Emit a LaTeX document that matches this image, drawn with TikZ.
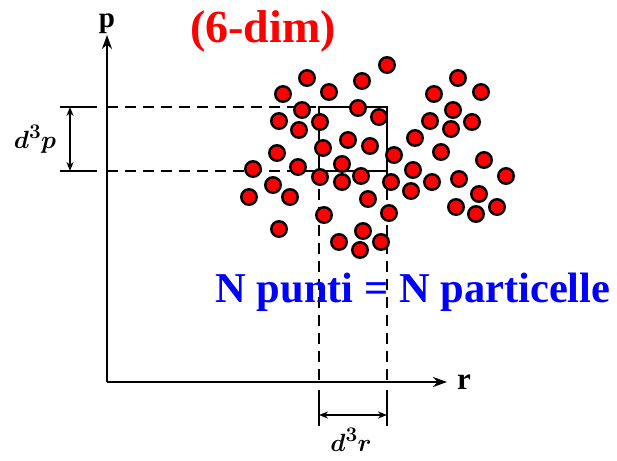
\documentclass[tikz,border=0pt]{standalone}
\usepackage{fontspec}
\usepackage{amsmath}
\setmainfont{Liberation Serif}
\usetikzlibrary{
    positioning,
    calc,
    arrows.meta
}
\definecolor{RossoPunto}{HTML}{FF0000}
\definecolor{BluScritta}{HTML}{0000FF}

\tikzset{
    particella/.style={
        circle,
        draw=black,
        fill=RossoPunto,
        line width=2.4pt,
        minimum size=15.5pt,
        inner sep=0pt
    },
    asse/.style={line width=2.2pt, -{Stealth[length=14pt, width=10pt]}},
    tratteggio/.style={line width=1.7pt, dash pattern=on 11pt off 7pt},
    tacca/.style={line width=1.6pt},
    misura/.style={
        line width=1.5pt,
        {Stealth[length=9pt, width=7pt]}-{Stealth[length=9pt, width=7pt]}
    }
}

\begin{document}
\begin{tikzpicture}[x=1pt, y=-1pt]

    \useasboundingbox (0,0) rectangle (617,460);

    % assi
    \coordinate (O) at (107,382);
    \coordinate (Palto) at (107,35);
    \coordinate (Rfine) at (447,382);
    \draw[asse] (O) -- (Palto);
    \draw[asse] (O) -- (Rfine);

    \node[font=\bfseries\fontsize{29}{31}\selectfont, anchor=base] (lblp) at (107,28) {p};
    \node[font=\bfseries\fontsize{31}{33}\selectfont, anchor=base] (lblr) at (464,389) {r};

    % cella d^3r d^3p
    \coordinate (BoxNW) at (319,107);
    \coordinate (BoxSE) at (387,171);
    \draw[tratteggio] (O |- BoxNW) -- (BoxNW);
    \draw[tratteggio] (O |- BoxSE) -- (BoxNW |- BoxSE);
    \draw[tratteggio] (BoxNW |- BoxSE) -- (BoxNW |- O);
    \draw[tratteggio] (BoxSE) -- (BoxSE |- O);
    \draw[line width=2.6pt] (BoxNW) rectangle (BoxSE);

    % misura d^3p
    \coordinate (tp1a) at (60,107);
    \coordinate (tp1b) at (97,107);
    \coordinate (tp2a) at (60,171);
    \coordinate (tp2b) at (97,171);
    \draw[tacca] (tp1a) -- (tp1b);
    \draw[tacca] (tp2a) -- (tp2b);
    \draw[misura] (70,107) -- (70,171);
    \node[font=\fontsize{28}{30}\selectfont\boldmath, anchor=base] (lbldp) at (35,148) {$d^3p$};

    % misura d^3r
    \coordinate (tr1a) at (319,390);
    \coordinate (tr1b) at (319,426);
    \coordinate (tr2a) at (387,390);
    \coordinate (tr2b) at (387,426);
    \draw[tacca] (tr1a) -- (tr1b);
    \draw[tacca] (tr2a) -- (tr2b);
    \draw[misura] (319,415) -- (387,415);
    \node[font=\fontsize{28}{30}\selectfont\boldmath, anchor=base] (lbldr) at (351,451) {$d^3r$};

    % punti
    \foreach \px/\py [count=\i] in {
        387/65, 307/78, 362/81, 458/78, 283/94, 329/92, 434/94, 481/92,
        302/110, 358/108, 379/117, 453/110, 279/121, 320/122, 430/121, 472/122,
        299/130, 451/129, 348/140, 370/146, 415/138, 323/148, 277/153, 394/155,
        441/152, 484/160, 342/164, 298/167, 253/169, 413/170,
        320/177, 361/176, 459/179, 506/176, 391/182, 342/182, 432/182, 273/185,
        249/197, 290/197, 368/199, 411/191, 479/194,
        456/207, 497/207, 476/214, 324/215, 389/213,
        279/229, 363/231, 339/242, 381/242, 360/250}
        \node[particella] (pt\i) at (\px,\py) {};

    % scritte
    \node[
        text=RossoPunto,
        font=\bfseries\fontsize{46}{50}\selectfont,
        anchor=base
    ] (titolo) at (263,43) {(6-dim)};

    \node[
        text=BluScritta,
        font=\bfseries\fontsize{42.5}{46}\selectfont,
        anchor=base
    ] (didascalia) at (413,302) {N punti = N particelle};

\end{tikzpicture}
\end{document}
